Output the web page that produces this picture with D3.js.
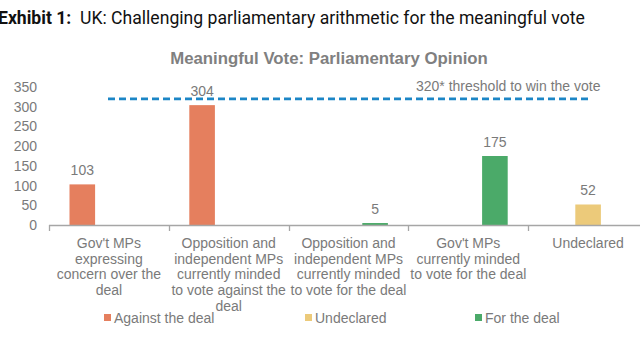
<!DOCTYPE html>
<html><head><meta charset="utf-8">
<script src="https://cdn.jsdelivr.net/npm/d3@7"></script>
<style>body{margin:0;background:#fff;}svg{display:block;}</style>
</head><body>
<svg id="c" width="640" height="360"></svg>
<script>
const categories = ["c1","c2","c3","c4","c5"];
const categoryLines = [
  ["Gov't MPs","expressing","concern over the","deal"],
  ["Opposition and","independent MPs","currently minded","to vote against the","deal"],
  ["Opposition and","independent MPs","currently minded","to vote for the deal"],
  ["Gov't MPs","currently minded","to vote for the deal"],
  ["Undeclared"]
];
const seriesNames = ["Against the deal","Undeclared","For the deal"];
const against = [103, 304, null, null, null];
const undeclared = [null, null, null, null, 52];
const forDeal = [null, null, 5, 175, null];
const yTicks = [0,50,100,150,200,250,300,350];
const threshold = 320;
const thresholdLabel = "320* threshold to win the vote";
const colors = ["#E57F5E","#ECCA7A","#4BAA69"];

const svg = d3.select("#c");
const font = "'Liberation Sans', Arial, sans-serif";
const gray = "#7a7a7a";

svg.append("text").attr("x",-2).attr("y",24)
  .attr("font-family","Roboto, sans-serif").attr("font-size",17.6).attr("fill","#111")
  .attr("xml:space","preserve")
  .html('<tspan font-weight="bold">Exhibit 1:</tspan>  UK: Challenging parliamentary arithmetic for the meaningful vote');

svg.append("text").attr("x",329).attr("y",64).attr("text-anchor","middle")
  .attr("font-family",font).attr("font-weight","bold").attr("font-size",16.8).attr("fill","#808080")
  .text("Meaningful Vote: Parliamentary Opinion");

const y = d3.scaleLinear().domain([0,350]).range([225,87]);
const x0 = d3.scaleBand().domain(categories).range([49,648]);
const x1 = d3.scaleBand().domain(seriesNames).range([20, x0.bandwidth()-20]);

// y labels
svg.append("g").selectAll("text").data(yTicks).join("text")
  .attr("x",37).attr("y",d=>y(d)+5).attr("text-anchor","end")
  .attr("font-family",font).attr("font-size",14).attr("fill",gray).text(d=>d);

// bars
const seriesData = [against, undeclared, forDeal];
seriesData.forEach((vals,si)=>{
  vals.forEach((v,ci)=>{
    if(v==null) return;
    const bx = x0(categories[ci]) + x1(seriesNames[si]);
    svg.append("rect").attr("x",bx+0.5).attr("width",x1.bandwidth()-1)
      .attr("y",y(v)).attr("height",y(0)-y(v)).attr("fill",colors[si]);
    svg.append("text").attr("x",bx+x1.bandwidth()/2).attr("y",y(v)-9)
      .attr("text-anchor","middle").attr("font-family",font).attr("font-size",14)
      .attr("fill",gray).text(v);
  });
});

// x axis
svg.append("line").attr("x1",49).attr("x2",648).attr("y1",225.5).attr("y2",225.5)
  .attr("stroke","#a6a6a6").attr("stroke-width",1.3);
categories.forEach(c=>{
  const tx = Math.round(x0(c))+0.5;
  svg.append("line").attr("x1",tx).attr("x2",tx).attr("y1",225).attr("y2",231)
    .attr("stroke","#a6a6a6").attr("stroke-width",1.3);
});

// category labels
categories.forEach((c,i)=>{
  const t = svg.append("text").attr("text-anchor","middle")
    .attr("font-family",font).attr("font-size",14).attr("fill",gray);
  categoryLines[i].forEach((ln,j)=>{
    t.append("tspan").attr("x",x0(c)+x0.bandwidth()/2).attr("y",248+j*15.7).text(ln);
  });
});

// threshold
svg.append("line").attr("x1",108).attr("x2",589).attr("y1",y(threshold)).attr("y2",y(threshold))
  .attr("stroke","#1C86C6").attr("stroke-width",2.6).attr("stroke-dasharray","7,4");
svg.append("text").attr("x",416).attr("y",91).attr("font-family",font).attr("font-size",14)
  .attr("fill",gray).text(thresholdLabel);

// legend
const legendX = [104,305,475];
seriesNames.forEach((s,i)=>{
  svg.append("rect").attr("x",legendX[i]).attr("y",314).attr("width",7).attr("height",7).attr("fill",colors[i]);
  svg.append("text").attr("x",legendX[i]+10).attr("y",323).attr("font-family",font)
    .attr("font-size",14).attr("fill",gray).text(s);
});
</script>
</body></html>
